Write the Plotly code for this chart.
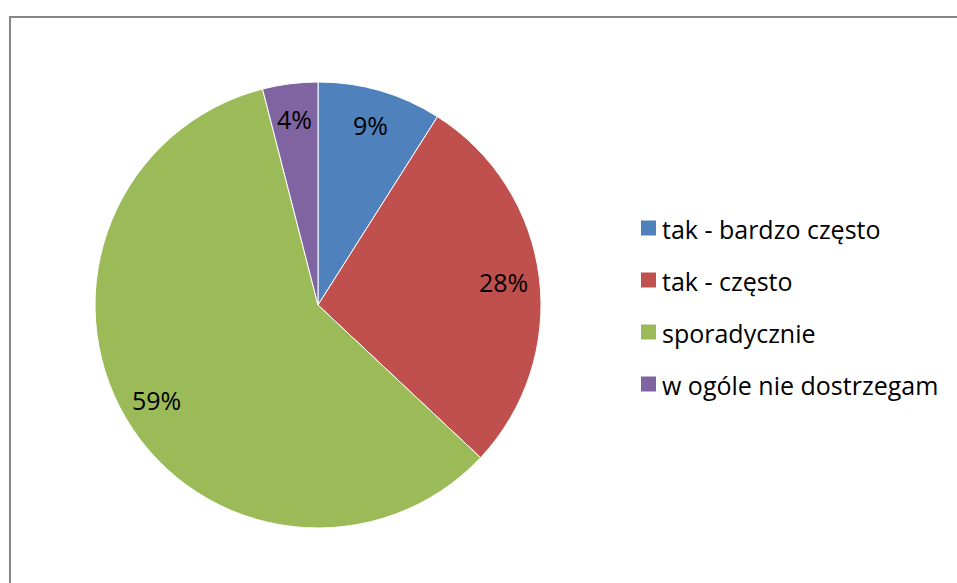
import math
import plotly.graph_objects as go

categories = ["tak - bardzo często", "tak - często", "sporadycznie", "w ogóle nie dostrzegam"]
values = [9, 28, 59, 4]
colors = ["#4F81BD", "#C0504D", "#9BBB59", "#8064A2"]

W, H = 957, 583
FONT = "'Open Sans', 'Noto Sans', sans-serif"

# pie geometry (pixels)
cx, cy, r = 318, 305, 223

fig = go.Figure()
fig.add_trace(go.Pie(
    labels=categories,
    values=values,
    sort=False,
    direction="clockwise",
    rotation=0,
    marker=dict(colors=colors, line=dict(color="white", width=1)),
    textinfo="none",
    hoverinfo="label+percent",
    showlegend=False,
    domain=dict(x=[(cx - r) / W, (cx + r) / W], y=[(H - cy - r) / H, (H - cy + r) / H]),
))

annotations = []
# data labels placed at the slice mid-angle (derived from the values)
total = sum(values)
cum = 0
for v in values:
    mid = (cum + v / 2) / total * 2 * math.pi
    cum += v
    px = cx + 0.84 * r * math.sin(mid)
    py = cy - 0.84 * r * math.cos(mid)
    annotations.append(dict(text=f"{round(100 * v / total)}%", xref="paper", yref="paper",
                            x=px / W, y=1 - py / H, xanchor="center", yanchor="middle",
                            showarrow=False, font=dict(family=FONT, size=25, color="black")))

shapes = [dict(type="rect", xref="paper", yref="paper",
               x0=10 / W, x1=1.05, y0=-0.05, y1=1 - 17 / H,
               line=dict(color="#868686", width=2), fillcolor="rgba(0,0,0,0)")]
leg_x, leg_y0, leg_dy, sq = 641, 228, 52, 15
for i, (name, col) in enumerate(zip(categories, colors)):
    yc = leg_y0 + i * leg_dy
    shapes.append(dict(type="rect", xref="paper", yref="paper",
                       x0=leg_x / W, x1=(leg_x + sq) / W,
                       y0=1 - (yc + sq / 2) / H, y1=1 - (yc - sq / 2) / H,
                       fillcolor=col, line=dict(width=0)))
    annotations.append(dict(text=name, xref="paper", yref="paper",
                            x=(leg_x + sq + 4) / W, y=1 - (yc + 1) / H,
                            xanchor="left", yanchor="middle", showarrow=False,
                            font=dict(family=FONT, size=25, color="black")))

fig.update_layout(
    width=W, height=H,
    margin=dict(l=0, r=0, t=0, b=0),
    paper_bgcolor="white",
    plot_bgcolor="white",
    shapes=shapes,
    annotations=annotations,
)
fig.write_html("out.html", config={"displayModeBar": False},
               post_script="document.body.style.margin='0';document.body.style.overflow='hidden';")
